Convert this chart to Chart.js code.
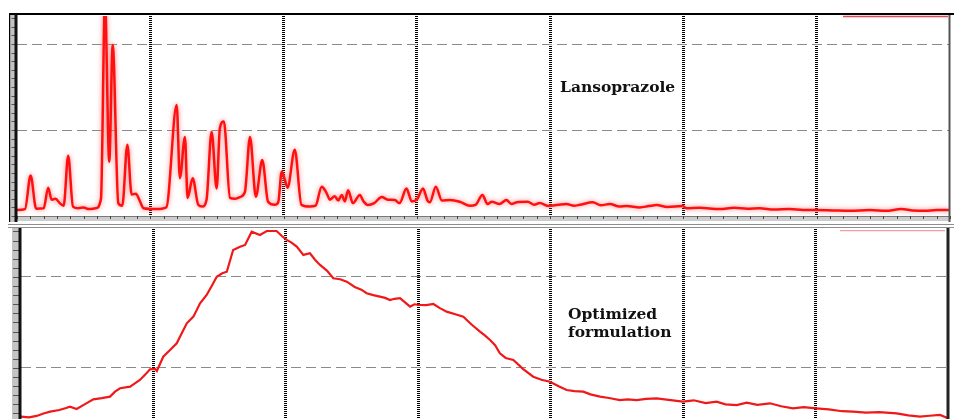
<!DOCTYPE html>
<html>
<head>
<meta charset="utf-8">
<script src="https://cdn.jsdelivr.net/npm/chart.js@4.4.1/dist/chart.umd.min.js"></script>
<style>
  html, body { margin: 0; padding: 0; background: #fff; }
  body { width: 954px; height: 419px; overflow: hidden; position: relative; }
  canvas { position: absolute; left: 0; }
  #topChart { top: 0; }
  #bottomChart { top: 222px; }
  .label {
    position: absolute;
    font-family: "DejaVu Serif", serif;
    font-weight: bold;
    font-size: 15.5px;
    line-height: 18px;
    color: #111;
    white-space: nowrap;
  }
</style>
</head>
<body>
<canvas id="topChart" width="954" height="222"></canvas>
<canvas id="bottomChart" width="954" height="248"></canvas>
<div class="label" style="left:560px; top:78px;">Lansoprazole</div>
<div class="label" style="left:568px; top:305px;">Optimized<br>formulation</div>
<script>
// Diffraction angle (2θ, degrees) and intensity of pure lansoprazole
const lansoTheta = [5.0, 5.3, 5.51, 5.72, 6.0, 6.17, 6.3, 6.45, 6.6, 6.75,
  6.92, 7.1, 7.3, 7.5, 7.7, 7.95, 8.15, 8.3, 8.46, 8.59,
  8.8, 8.95, 9.14, 9.3, 9.46, 9.6, 9.75, 10.2, 10.6, 10.99,
  11.11, 11.3, 11.4, 11.59, 11.8, 11.95, 12.11, 12.3, 12.49, 12.61,
  12.76, 12.99, 13.17, 13.36, 13.55, 13.74, 13.96, 14.2, 14.42, 14.67,
  14.8, 14.93, 15.05, 15.15, 15.42, 15.67, 15.99, 16.2, 16.43, 16.61,
  16.74, 16.92, 17.05, 17.18, 17.3, 17.42, 17.6, 17.86, 18.0, 18.16,
  18.4, 18.68, 18.91, 19.17, 19.35, 19.61, 19.81, 20.0, 20.23, 20.4,
  20.49, 20.71, 20.94, 21.24, 21.61, 21.99, 22.2, 22.46, 22.65, 22.81,
  23.1, 23.36, 23.55, 23.75, 24.16, 24.4, 24.61, 24.95, 25.3, 25.61,
  25.9, 26.11, 26.6, 26.9, 27.24, 27.6, 27.87, 28.36, 28.7, 28.99,
  29.4, 29.97, 30.11, 30.6, 31.36, 31.9, 32.4, 32.86, 33.4, 33.98,
  34.5, 34.99, 35.6, 36.23, 37.0, 37.6, 38.17, 38.6, 39.05, 39.5,
  40.0];
const lansoIntensity = [70, 80, 470, 85, 90, 330, 190, 200, 150, 120,
  700, 110, 90, 100, 80, 90, 200, 2500, 630, 1990,
  150, 120, 830, 250, 260, 180, 90, 80, 100, 1290,
  440, 920, 210, 440, 130, 110, 190, 980, 320, 1020,
  1100, 210, 200, 220, 280, 920, 225, 650, 165, 130,
  160, 515, 420, 330, 770, 130, 110, 120, 340, 270,
  190, 230, 180, 245, 170, 300, 150, 245, 170, 128,
  150, 220, 190, 186, 150, 320, 170, 190, 320, 180,
  160, 340, 180, 186, 166, 120, 130, 245, 140, 165,
  140, 186, 140, 160, 165, 130, 150, 116, 130, 140,
  120, 130, 160, 125, 140, 110, 116, 100, 115, 128,
  105, 116, 89, 95, 80, 95, 85, 90, 75, 80,
  70, 70, 65, 60, 70, 60, 80, 65, 60, 70,
  70];

// Diffraction angle (2θ, degrees) and intensity of the optimized formulation
const formTheta = [5.0, 5.3, 5.59, 5.85, 6.1, 6.45, 6.7, 6.85, 7.1, 7.4,
  7.73, 8.05, 8.36, 8.55, 8.74, 9.12, 9.3, 9.49, 9.7, 9.87,
  10.06, 10.13, 10.37, 10.6, 10.88, 11.05, 11.26, 11.51, 11.76, 12.01,
  12.2, 12.39, 12.6, 12.77, 13.01, 13.25, 13.46, 13.71, 14.02, 14.28,
  14.65, 14.85, 15.03, 15.2, 15.41, 15.66, 15.91, 16.1, 16.29, 16.55,
  16.79, 17.05, 17.3, 17.6, 17.85, 18.05, 18.3, 18.55, 18.75, 18.93,
  19.1, 19.31, 19.5, 19.69, 19.85, 20.06, 20.3, 20.57, 20.8, 21.07,
  21.4, 21.7, 22.0, 22.33, 22.5, 22.71, 22.9, 23.08, 23.3, 23.59,
  23.95, 24.34, 24.65, 24.97, 25.3, 25.6, 25.9, 26.23, 26.5, 26.86,
  27.2, 27.61, 27.9, 28.24, 28.6, 29.0, 29.45, 29.99, 30.4, 30.85,
  31.26, 31.6, 32.02, 32.4, 32.8, 33.28, 33.7, 34.15, 34.55, 35.01,
  35.5, 36.0, 36.42, 36.9, 37.4, 38.06, 38.5, 38.94, 39.3, 39.7,
  40.0];
const formIntensity = [465, 458, 473, 500, 520, 538, 560, 575, 549, 600,
  656, 668, 685, 740, 777, 795, 830, 868, 930, 986,
  990, 967, 1124, 1190, 1271, 1370, 1491, 1564, 1711, 1802,
  1900, 2003, 2040, 2058, 2297, 2330, 2352, 2498, 2462, 2505,
  2505, 2450, 2407, 2380, 2333, 2242, 2260, 2190, 2132, 2070,
  1986, 1975, 1948, 1890, 1860, 1821, 1800, 1784, 1770, 1747,
  1760, 1766, 1720, 1674, 1700, 1692, 1690, 1703, 1660, 1619,
  1590, 1564, 1480, 1399, 1360, 1308, 1250, 1162, 1110, 1088,
  990, 904, 870, 849, 800, 758, 745, 740, 710, 685,
  670, 648, 655, 648, 660, 667, 650, 630, 645, 615,
  630, 600, 593, 620, 595, 612, 580, 557, 570, 557,
  545, 525, 520, 510, 515, 502, 480, 465, 475, 484,
  447];

// Axis ranges and grid lines
const thetaRange = [5, 40];
const thetaGrid = [10, 15, 20, 25, 30, 35];
const intensityGrid = [1000, 2000];
const lansoMax = 2326;
const formMax = 2527;

const toPoints = (xs, ys) => xs.map((x, i) => ({ x, y: ys[i] }));

// Frame, axis strips and separator drawn around each panel
function framePlugin(cfg) {
  return {
    id: 'panelFrame',
    beforeDraw(chart) {
      const { ctx, chartArea: a, scales } = chart;
      const h = chart.height;
      ctx.save();
      if (cfg.separator) {
        ctx.fillStyle = '#8e8e8e';
        ctx.fillRect(8, 2, 946, 1);
        ctx.fillRect(8, 5, 946, 1);
      }
      if (cfg.outer) {
        ctx.fillStyle = '#000';
        ctx.fillRect(9, 13, 945, 2);
        ctx.fillRect(9, 13, 1.5, h - 13);
      }
      // left gray strip with minor ticks
      ctx.fillStyle = '#c4c4c4';
      ctx.fillRect(cfg.stripX, a.top - 1, a.left - cfg.stripX, h - a.top + 1);
      ctx.fillStyle = '#555';
      for (let v = 0; v <= scales.y.max; v += 100) {
        const y = Math.round(scales.y.getPixelForValue(v));
        ctx.fillRect(cfg.stripX + 1, y, a.left - cfg.stripX - 3, 1);
      }
      if (cfg.bottomStrip) {
        ctx.fillStyle = '#cdcdcd';
        ctx.fillRect(a.left, a.bottom, a.right - a.left, 5);
        ctx.fillStyle = '#777';
        ctx.fillRect(a.left, a.bottom, a.right - a.left, 1);
        ctx.fillStyle = '#444';
        for (let t = thetaRange[0]; t <= thetaRange[1]; t += 0.5) {
          const x = Math.round(scales.x.getPixelForValue(t));
          ctx.fillRect(x, a.bottom, 1, 3);
        }
      }
      ctx.restore();
    },
    beforeDatasetDraw(chart) {
      if (!cfg.glow) return;
      const ctx = chart.ctx;
      ctx.save();
      ctx.shadowColor = 'rgba(255,100,100,0.8)';
      ctx.shadowBlur = 5;
    },
    afterDatasetDraw(chart) {
      if (cfg.glow) chart.ctx.restore();
    },
    afterDraw(chart) {
      const { ctx, chartArea: a } = chart;
      const h = chart.height;
      ctx.save();
      // y axis line
      ctx.fillStyle = '#111';
      ctx.fillRect(a.left - 2.5, a.top - 1, 3, h - a.top + 1);
      // right edge
      ctx.fillStyle = cfg.rightColor;
      ctx.fillRect(a.right - 1.5, a.top - 1, cfg.rightWidth, h - a.top + 1);
      // key stub at the top right corner
      ctx.strokeStyle = cfg.stubColor;
      ctx.lineWidth = 1.3;
      ctx.beginPath();
      ctx.moveTo(cfg.stub[0], cfg.stub[2]);
      ctx.lineTo(cfg.stub[1], cfg.stub[2]);
      ctx.stroke();
      ctx.restore();
    }
  };
}

function panelOptions(maxY, padding) {
  return {
    responsive: false,
    animation: false,
    devicePixelRatio: 1,
    layout: { padding },
    plugins: { legend: { display: false }, tooltip: { enabled: false } },
    elements: { point: { radius: 0 } },
    scales: {
      x: {
        type: 'linear',
        min: thetaRange[0],
        max: thetaRange[1],
        afterBuildTicks: s => { s.ticks = thetaGrid.map(value => ({ value })); },
        ticks: { display: false },
        grid: { drawTicks: false, lineWidth: 3, color: '#000' },
        border: { display: false, dash: [1, 1] }
      },
      y: {
        type: 'linear',
        min: 0,
        max: maxY,
        afterBuildTicks: s => { s.ticks = intensityGrid.map(value => ({ value })); },
        ticks: { display: false },
        grid: { drawTicks: false, lineWidth: 1, color: '#8a8a8a' },
        border: { display: false, dash: [10, 5] }
      }
    }
  };
}

new Chart(document.getElementById('topChart'), {
  type: 'line',
  data: {
    datasets: [{
      label: 'Lansoprazole',
      data: toPoints(lansoTheta, lansoIntensity),
      borderColor: '#ff1010',
      borderWidth: 2.5,
      cubicInterpolationMode: 'monotone',
      fill: false
    }]
  },
  options: panelOptions(lansoMax, { left: 17, top: 16, right: 4, bottom: 6 }),
  plugins: [framePlugin({
    outer: true, separator: false, stripX: 10.5, bottomStrip: true, glow: true,
    rightColor: '#555', rightWidth: 2,
    stubColor: 'rgba(220,40,60,0.85)', stub: [843, 948, 16.5]
  })]
});

new Chart(document.getElementById('bottomChart'), {
  type: 'line',
  data: {
    datasets: [{
      label: 'Optimized formulation',
      data: toPoints(formTheta, formIntensity),
      borderColor: '#f01818',
      borderWidth: 2.2,
      tension: 0,
      fill: false
    }]
  },
  options: panelOptions(formMax, { left: 21, top: 7, right: 6, bottom: 11 }),
  plugins: [framePlugin({
    outer: false, separator: true, stripX: 12, bottomStrip: false, glow: false,
    rightColor: '#222', rightWidth: 3,
    stubColor: 'rgba(235,90,100,0.6)', stub: [840, 945, 8.7]
  })]
});
</script>
</body>
</html>
